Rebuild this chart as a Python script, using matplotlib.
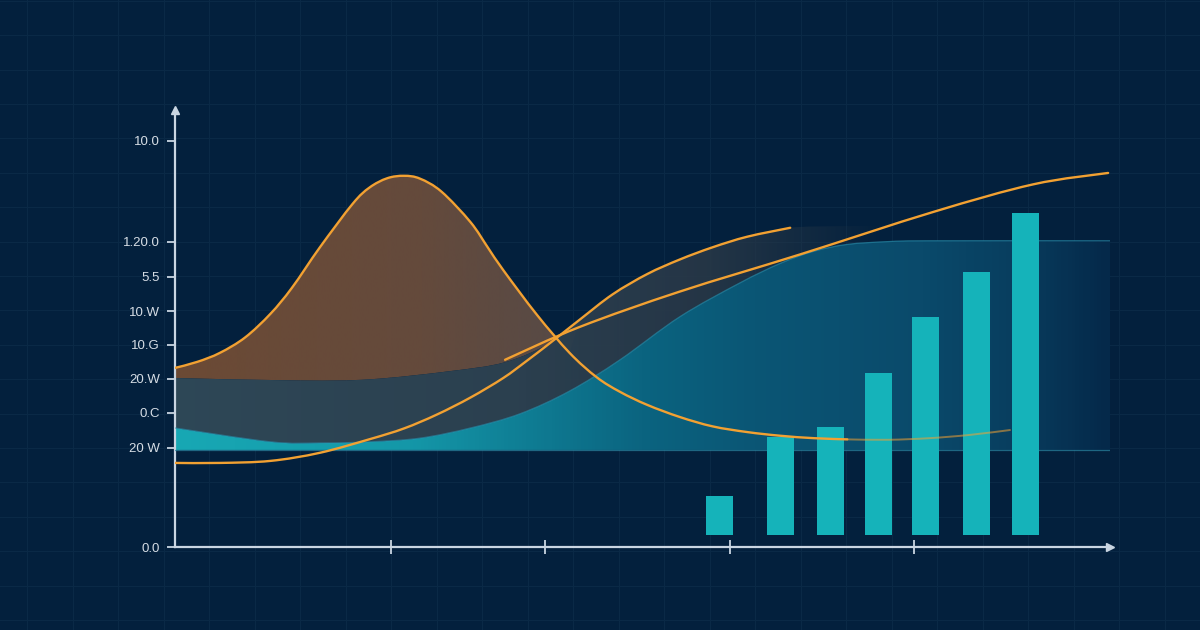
import numpy as np
import matplotlib.pyplot as plt
from matplotlib.colors import LinearSegmentedColormap
from matplotlib.path import Path
from matplotlib.patches import PathPatch

# --- colours ---
BG = '#03203d'
GRID = '#0a2946'
AXIS = '#c9d5e2'
ORANGE = '#f2a132'
BAR = '#15b3ba'

# --- data ---
# y axis ticks (labels kept as they appear)
Y_TICKS = [0.0, 2.44, 3.30, 4.14, 4.98, 5.81, 6.65, 7.51, 10.0]
Y_LABELS = ['0.0', '20 W', '0.C', '20.W', '10.G', '10.W', '5.5', '1.20.0', '10.0']
X_TICKS = [2.31, 3.96, 5.94, 7.90]

# bell shaped curve (orange, brown fill under it)
BELL_X = [0, 0.24, 0.48, 0.75, 1.02, 1.25, 1.55, 1.90, 2.08, 2.27, 2.45, 2.62, 2.85,
          3.16, 3.35, 3.51, 3.87, 4.22, 4.51, 4.76, 5.05, 5.40, 5.75, 6.12, 6.47,
          6.83, 7.19, 7.63, 8.07, 8.50, 8.93]
BELL_Y = [4.41, 4.56, 4.78, 5.16, 5.74, 6.38, 7.38, 8.45, 8.85, 9.08, 9.14, 9.07, 8.75,
          8.00, 7.36, 6.82, 5.72, 4.78, 4.18, 3.82, 3.50, 3.20, 2.97, 2.83, 2.74,
          2.68, 2.65, 2.64, 2.68, 2.76, 2.88]

# s-curve (orange)
SIG_X = [0, 0.48, 1.02, 1.55, 2.09, 2.45, 2.80, 3.16, 3.51, 3.76, 4.01, 4.33, 4.68,
         5.05, 5.40, 5.75, 6.12, 6.58]
SIG_Y = [2.07, 2.07, 2.12, 2.32, 2.66, 2.92, 3.26, 3.68, 4.16, 4.58, 5.02, 5.60, 6.22,
         6.72, 7.08, 7.38, 7.64, 7.86]

# near-straight rising line (orange)
LIN_X = [3.53, 4.33, 5.40, 6.68, 8.11, 9.18, 9.98]
LIN_Y = [4.61, 5.42, 6.29, 7.20, 8.25, 8.93, 9.21]

# upper edge of the grey band
GREY_X = [0, 1.34, 2.09, 2.94, 3.53, 4.01, 4.33, 4.68, 5.05, 5.40, 5.75, 6.12, 6.58,
          7.11, 7.54]
GREY_Y = [4.16, 4.10, 4.13, 4.33, 4.55, 5.02, 5.60, 6.22, 6.72, 7.08, 7.38, 7.64, 7.86,
          7.90, 7.90]

# upper edge of the teal area, and its flat base
TEAL_X = [0, 1.02, 1.55, 2.09, 2.62, 3.16, 3.69, 4.22, 4.76, 5.40, 6.04, 6.47, 6.83,
          7.19, 7.63, 8.07, 10.0]
TEAL_Y = [2.93, 2.59, 2.56, 2.59, 2.68, 2.93, 3.28, 3.84, 4.61, 5.67, 6.50, 6.98, 7.28,
          7.45, 7.52, 7.54, 7.54]
TEAL_BASE = 2.39

# bars
BAR_X = [5.82, 6.48, 7.01, 7.52, 8.03, 8.57, 9.10]
BAR_TOP = [1.26, 2.71, 2.96, 4.29, 5.67, 6.77, 8.23]
BAR_BASE = 0.30


def smooth_verts(xs, ys):
    """Catmull-Rom through the read points, returned as cubic bezier vertices."""
    p = np.column_stack([xs, ys]).astype(float)
    ext = np.vstack([p[0], p, p[-1]])
    verts = [p[0]]
    for i in range(len(p) - 1):
        p0, p1, p2, p3 = ext[i], ext[i + 1], ext[i + 2], ext[i + 3]
        verts += [p1 + (p2 - p0) / 6, p2 - (p3 - p1) / 6, p2]
    return np.array(verts)


def curve_path(xs, ys):
    v = smooth_verts(xs, ys)
    codes = [Path.MOVETO] + [Path.CURVE4] * (len(v) - 1)
    return Path(v, codes)


def region_path(top_x, top_y, bot_x, bot_y):
    """Closed path: smooth top edge forward, smooth bottom edge backwards."""
    vt = smooth_verts(top_x, top_y)
    vb = smooth_verts(bot_x, bot_y)[::-1]
    verts = np.vstack([vt, vb, vt[:1]])
    codes = ([Path.MOVETO] + [Path.CURVE4] * (len(vt) - 1) +
             [Path.LINETO] + [Path.CURVE4] * (len(vb) - 1) + [Path.CLOSEPOLY])
    return Path(verts, codes)


def gradient_region(ax, path, x_lo, x_hi, colors, zorder):
    patch = PathPatch(path, facecolor='none', edgecolor='none', transform=ax.transData)
    ax.add_patch(patch)
    cmap = LinearSegmentedColormap.from_list('grad', colors)
    img = ax.imshow(np.linspace(0, 1, 256).reshape(1, -1), cmap=cmap,
                    extent=[x_lo, x_hi, 0, 10.76], aspect='auto',
                    interpolation='bicubic', zorder=zorder)
    img.set_clip_path(patch)


def smooth_line(ax, xs, ys, **kw):
    ax.add_patch(PathPatch(curve_path(xs, ys), facecolor='none', capstyle='round', **kw))


fig = plt.figure(figsize=(12, 6.3), dpi=100)
fig.patch.set_facecolor(BG)

# faint background grid over the whole canvas
bg = fig.add_axes([0, 0, 1, 1], zorder=0)
bg.set_xlim(0, 1200)
bg.set_ylim(0, 630)
bg.set_facecolor(BG)
for gx in np.arange(27, 1200, 45.5):
    bg.axvline(gx, color=GRID, lw=0.8)
for gy in np.arange(630 - 448 - 34.4 * 5, 630, 34.4):
    bg.axhline(gy, color=GRID, lw=0.8)
bg.set_xticks([])
bg.set_yticks([])
for s in bg.spines.values():
    s.set_visible(False)

ax = fig.add_axes([175 / 1200, 83 / 630, 935 / 1200, 437 / 630], zorder=1)
ax.set_facecolor('none')

# teal area
gradient_region(ax, region_path(TEAL_X, TEAL_Y, [0, 10], [TEAL_BASE, TEAL_BASE]), 0, 10,
                [(0, '#18a8b4'), (0.25, '#1497a8'), (0.4, '#0e7890'), (0.5, '#0b6480'),
                 (0.62, '#0a5675'), (0.8, '#0a4a6b'), (0.9, '#083e5f'), (1.0, '#05294a')],
                zorder=2)
# brown hump (drawn first, the grey band covers its lower tip)
gradient_region(ax, region_path(BELL_X[:18], BELL_Y[:18], GREY_X[:7], GREY_Y[:7]), 0, 4.4,
                [(0, '#6c4a35'), (0.6, '#644a3c'), (1.0, '#554a48')], zorder=2)
# grey band
gradient_region(ax, region_path(GREY_X, GREY_Y, TEAL_X[:15], TEAL_Y[:15]), 0, 7.6,
                [(0, (0.18, 0.28, 0.34, 1.0)), (0.5, (0.17, 0.25, 0.31, 1.0)),
                 (0.75, (0.16, 0.22, 0.28, 0.9)), (1.0, (0.16, 0.22, 0.28, 0.0))],
                zorder=2)

# thin edges of the teal area
smooth_line(ax, TEAL_X, TEAL_Y, edgecolor='#2c95b2', lw=0.9, alpha=0.6, zorder=3)
ax.axhline(TEAL_BASE, color='#2a86a2', lw=0.9, alpha=0.7, zorder=3)

# bars
ax.bar(BAR_X, np.array(BAR_TOP) - BAR_BASE, bottom=BAR_BASE, width=0.29,
       color=BAR, zorder=4)

# orange lines
smooth_line(ax, BELL_X[:27], BELL_Y[:27], edgecolor=ORANGE, lw=1.7, zorder=5)
smooth_line(ax, BELL_X[26:], BELL_Y[26:], edgecolor=ORANGE, lw=1.4, alpha=0.55, zorder=5)
smooth_line(ax, SIG_X, SIG_Y, edgecolor=ORANGE, lw=1.7, zorder=5)
smooth_line(ax, LIN_X, LIN_Y, edgecolor=ORANGE, lw=1.7, zorder=5)

ax.set_xlim(0, 10)
ax.set_ylim(0, 10.76)

# axes with arrow heads
for side in ['top', 'right']:
    ax.spines[side].set_visible(False)
for side in ['left', 'bottom']:
    ax.spines[side].set_color(AXIS)
    ax.spines[side].set_linewidth(1.6)
ax.plot(1, 0, '>', transform=ax.transAxes, clip_on=False, ms=6, color=AXIS, zorder=6)
ax.plot(0, 1, '^', transform=ax.transAxes, clip_on=False, ms=6, color=AXIS, zorder=6)

ax.set_yticks(Y_TICKS, Y_LABELS, family='Liberation Sans')
ax.set_xticks(X_TICKS, [''] * len(X_TICKS))
ax.tick_params(axis='y', length=6, width=1.3, color=AXIS, labelcolor='#d6dde5',
               labelsize=9.5, pad=5)
ax.tick_params(axis='x', length=10, width=1.3, color=AXIS, direction='inout')

fig.savefig('out.png', dpi=100, facecolor=BG)
